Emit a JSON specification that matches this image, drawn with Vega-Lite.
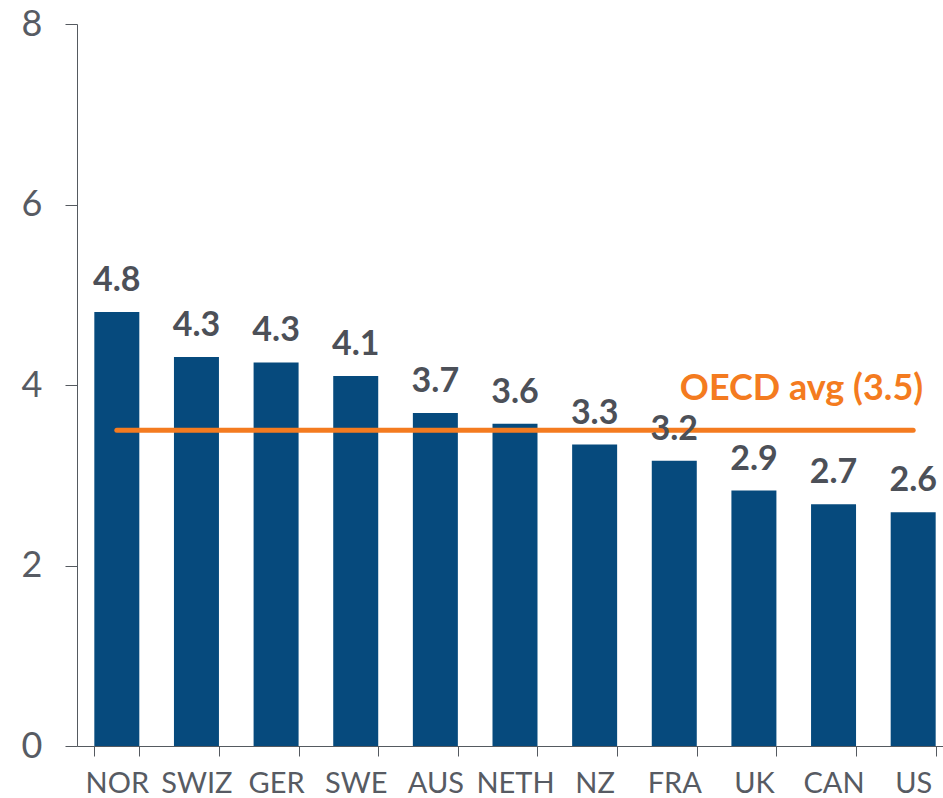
{
  "$schema": "https://vega.github.io/schema/vega-lite/v6.json",
  "width": 866,
  "height": 722,
  "autosize": {"type": "none"},
  "padding": {"left": 77, "top": 24, "right": 0, "bottom": 52},
  "background": "white",
  "config": {"view": {"stroke": null}, "font": "Lato"},
  "data": {
    "values": [
      {"country": "NOR", "value": 4.81, "label": "4.8"},
      {"country": "SWIZ", "value": 4.31, "label": "4.3"},
      {"country": "GER", "value": 4.25, "label": "4.3"},
      {"country": "SWE", "value": 4.1, "label": "4.1"},
      {"country": "AUS", "value": 3.69, "label": "3.7"},
      {"country": "NETH", "value": 3.57, "label": "3.6"},
      {"country": "NZ", "value": 3.34, "label": "3.3"},
      {"country": "FRA", "value": 3.16, "label": "3.2"},
      {"country": "UK", "value": 2.83, "label": "2.9"},
      {"country": "CAN", "value": 2.68, "label": "2.7"},
      {"country": "US", "value": 2.59, "label": "2.6"}
    ]
  },
  "layer": [
    {
      "mark": {"type": "bar", "color": "#064a7d"},
      "encoding": {
        "x": {
          "field": "country",
          "type": "nominal",
          "scale": {
            "domain": ["NOR", "SWIZ", "GER", "SWE", "AUS", "NETH", "NZ", "FRA", "UK", "CAN", "US"],
            "range": [0, 876],
            "paddingInner": 0.435,
            "paddingOuter": 0.2175
          },
          "axis": {
            "title": null,
            "labelAngle": 0,
            "labelFontSize": 29,
            "labelColor": "#575b63",
            "labelBaseline": "alphabetic",
            "labelPadding": 36,
            "tickSize": 10,
            "tickBand": "extent",
            "tickColor": "#555a60",
            "domainColor": "#555a60",
            "labelFont": "Lato"
          }
        },
        "y": {
          "field": "value",
          "type": "quantitative",
          "scale": {"domain": [0, 8]},
          "axis": {
            "title": null,
            "values": [0, 2, 4, 6, 8],
            "format": "d",
            "grid": false,
            "labelFontSize": 36,
            "labelColor": "#575b63",
            "labelPadding": 23,
            "tickSize": 12,
            "tickColor": "#555a60",
            "domainColor": "#555a60",
            "labelFont": "Lato"
          }
        }
      }
    },
    {
      "data": {"values": [{"country": "NOR", "avg": 3.5}, {"country": "US", "avg": 3.5}]},
      "mark": {"type": "line", "color": "#f47b20", "strokeWidth": 5, "strokeCap": "round"},
      "encoding": {
        "x": {"field": "country", "type": "nominal"},
        "y": {"field": "avg", "type": "quantitative"}
      }
    },
    {
      "mark": {"type": "text", "baseline": "alphabetic", "dy": -21, "fontSize": 34, "fontWeight": "bold", "color": "#4c5058", "font": "Lato"},
      "encoding": {
        "x": {"field": "country", "type": "nominal"},
        "y": {"field": "value", "type": "quantitative"},
        "text": {"field": "label"}
      }
    },
    {
      "data": {"values": [{"country": "US", "avg": 3.5, "t": "OECD avg (3.5)"}]},
      "mark": {"type": "text", "align": "right", "baseline": "alphabetic", "dx": 10, "dy": -30, "fontSize": 36, "fontWeight": "bold", "color": "#f47b20", "font": "Lato"},
      "encoding": {
        "x": {"field": "country", "type": "nominal"},
        "y": {"field": "avg", "type": "quantitative"},
        "text": {"field": "t"}
      }
    }
  ]
}
